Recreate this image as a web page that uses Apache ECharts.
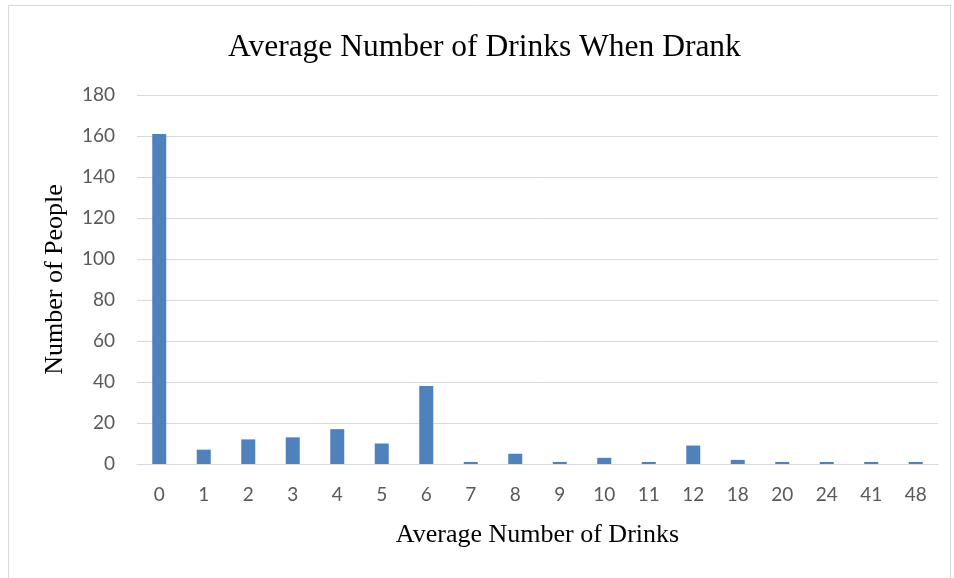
<!DOCTYPE html>
<html>
<head>
<meta charset="utf-8">
<script src="https://cdn.jsdelivr.net/npm/echarts@6/dist/echarts.min.js"></script>
<style>
  html, body { margin: 0; padding: 0; background: #fff; }
  #chart { width: 954px; height: 578px; }
</style>
</head>
<body>
<div id="chart"></div>
<script>
// Average drinks per occasion (categories) and number of respondents in each
const categories = ['0', '1', '2', '3', '4', '5', '6', '7', '8', '9', '10', '11', '12', '18', '20', '24', '41', '48'];
const people = [161, 7, 12, 13, 17, 10, 38, 1, 5, 1, 3, 1, 9, 2, 1, 1, 1, 1];
const yTicks = { min: 0, max: 180, interval: 20 };

const chart = echarts.init(document.getElementById('chart'));
chart.setOption({
  animation: false,
  title: {
    text: 'Average Number of Drinks When Drank',
    left: 223,
    top: 27,
    textStyle: { fontFamily: 'Liberation Serif', fontSize: 31.5, fontWeight: 'normal', color: '#000' }
  },
  graphic: [{
    type: 'rect',
    shape: { x: 8.5, y: 5.5, width: 942, height: 580 },
    style: { fill: 'none', stroke: '#d9d9d9', lineWidth: 1 },
    silent: true
  }],
  grid: { left: 137, right: 16, top: 95, bottom: 114 },
  xAxis: {
    type: 'category',
    data: categories,
    name: 'Average Number of Drinks',
    nameLocation: 'middle',
    nameGap: 58,
    nameTextStyle: { fontFamily: 'Liberation Serif', fontSize: 26, color: '#000' },
    axisLine: { lineStyle: { color: '#d9d9d9', width: 1 } },
    axisTick: { show: false },
    axisLabel: { fontFamily: 'Lato', fontSize: 19, color: '#595959', margin: 21 }
  },
  yAxis: {
    type: 'value',
    min: yTicks.min,
    max: yTicks.max,
    interval: yTicks.interval,
    name: 'Number of People',
    nameLocation: 'middle',
    nameGap: 69,
    nameTextStyle: { fontFamily: 'Liberation Serif', fontSize: 26, color: '#000' },
    axisLine: { show: false },
    axisTick: { show: false },
    axisLabel: { fontFamily: 'Lato', fontSize: 19, color: '#595959', margin: 22 },
    splitLine: { lineStyle: { color: '#d9d9d9', width: 1 } }
  },
  series: [{
    type: 'bar',
    data: people,
    barWidth: 14,
    itemStyle: { color: '#4f81bd' }
  }]
});
</script>
</body>
</html>
